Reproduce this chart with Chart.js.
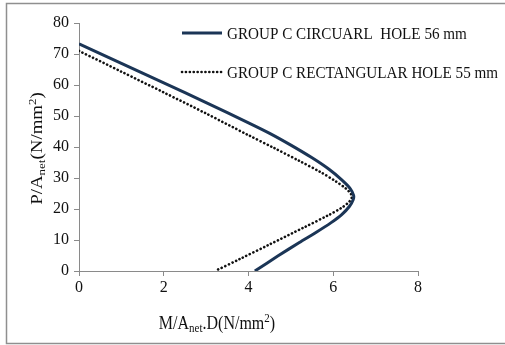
<!DOCTYPE html>
<html>
<head>
<meta charset="utf-8">
<script src="https://cdn.jsdelivr.net/npm/chart.js@4.4.1/dist/chart.umd.min.js"></script>
<style>
  html, body { margin: 0; padding: 0; background: #fff; }
  #wrap { width: 505px; height: 345px; position: relative; }
</style>
</head>
<body>
<div id="wrap"><canvas id="c" width="505" height="345"></canvas></div>
<script>
// Data
const seriesNames = ["GROUP C CIRCUARL  HOLE 56 mm", "GROUP C RECTANGULAR HOLE 55 mm"];
const circularX = [0, 1, 2, 3, 4, 4.5, 5, 5.5, 5.9, 6.2, 6.4, 6.48, 6.47, 6.38, 6.2, 5.95, 5.6, 5.2, 4.7, 4.15];
const circularY = [73.3, 67.0, 60.7, 54.3, 47.8, 44.4, 40.6, 36.5, 32.8, 29.4, 26.6, 24.4, 23.0, 20.8, 18.2, 15.6, 12.5, 9.2, 4.9, 0];
const rectX = [0, 1, 2, 3, 4, 4.6, 5.2, 5.7, 6.05, 6.3, 6.42, 6.44, 6.38, 6.2, 5.9, 5.3, 4.5, 3.8, 3.21];
const rectY = [71.0, 64.3, 57.6, 50.8, 43.8, 39.7, 35.5, 31.9, 29.0, 26.6, 24.8, 23.8, 22.4, 20.4, 18.1, 14.0, 8.6, 3.9, 0];
const xTicks = [0, 2, 4, 6, 8];
const yTicks = [0, 10, 20, 30, 40, 50, 60, 70, 80];

const toPts = (xs, ys) => xs.map((x, i) => ({ x: x, y: ys[i] }));
const SERIF = "'Liberation Serif', 'Times New Roman', serif";

const decor = {
  id: 'decor',
  afterDraw(chart) {
    const ctx = chart.ctx;
    ctx.save();
    // outer border
    ctx.strokeStyle = '#8f8f8f';
    ctx.lineWidth = 1.5;
    ctx.strokeRect(6.5, 3.5, 520, 340);

    // legend
    const ds = chart.data.datasets;
    const lx0 = 182, lx1 = 222, rows = [33, 72];
    ds.forEach((d, i) => {
      ctx.save();
      ctx.strokeStyle = d.borderColor;
      ctx.lineWidth = d.borderWidth;
      ctx.lineCap = d.borderCapStyle || 'butt';
      ctx.setLineDash(d.borderDash || []);
      ctx.beginPath();
      ctx.moveTo(lx0, rows[i]);
      ctx.lineTo(lx1, rows[i]);
      ctx.stroke();
      ctx.restore();
      ctx.save();
      ctx.translate(227, rows[i] + 1);
      ctx.scale(1.01, 1.15);
      ctx.fillStyle = '#111';
      ctx.font = '15px ' + SERIF;
      ctx.textBaseline = 'middle';
      ctx.textAlign = 'left';
      ctx.fillText(d.label, 0, 0);
      ctx.restore();
    });

    // helper to draw text with sub/sup parts, centred on (0,0) baseline
    function drawRich(parts) {
      const big = '16px ' + SERIF, small = '11px ' + SERIF;
      let w = 0;
      parts.forEach(p => { ctx.font = p.t === 'n' ? big : small; w += ctx.measureText(p.s).width; });
      let cx = -w / 2;
      ctx.textBaseline = 'alphabetic';
      ctx.textAlign = 'left';
      parts.forEach(p => {
        ctx.font = p.t === 'n' ? big : small;
        const dy = p.t === 'sub' ? 3 : (p.t === 'sup' ? -6 : 0);
        ctx.fillText(p.s, cx, dy);
        cx += ctx.measureText(p.s).width;
      });
    }
    ctx.fillStyle = '#111';
    // x title
    ctx.save();
    ctx.translate(217, 329);
    ctx.scale(1, 1.15);
    drawRich([{s:'M/A',t:'n'},{s:'net',t:'sub'},{s:'.D(N/mm',t:'n'},{s:'2',t:'sup'},{s:')',t:'n'}]);
    ctx.restore();
    // y title
    ctx.save();
    ctx.translate(42, 148.5);
    ctx.rotate(-Math.PI / 2);
    ctx.scale(1.18, 1);
    drawRich([{s:'P/A',t:'n'},{s:'net',t:'sub'},{s:'(N/mm',t:'n'},{s:'2',t:'sup'},{s:')',t:'n'}]);
    ctx.restore();
    ctx.restore();
  }
};

new Chart(document.getElementById('c'), {
  type: 'scatter',
  data: {
    datasets: [
      {
        label: seriesNames[0],
        data: toPts(circularX, circularY),
        showLine: true,
        borderColor: '#1b3556',
        borderWidth: 3,
        borderCapStyle: 'butt',
        pointRadius: 0,
        tension: 0.3,
        fill: false
      },
      {
        label: seriesNames[1],
        data: toPts(rectX, rectY),
        showLine: true,
        borderColor: '#111111',
        borderWidth: 2.6,
        borderCapStyle: 'round',
        borderDash: [0.1, 3.8],
        pointRadius: 0,
        tension: 0.3,
        fill: false
      }
    ]
  },
  options: {
    responsive: false,
    animation: false,
    devicePixelRatio: 1,
    layout: { padding: { left: 0, right: 87, top: 23, bottom: 0 } },
    plugins: { legend: { display: false }, tooltip: { enabled: false } },
    scales: {
      x: {
        type: 'linear',
        min: 0, max: 8,
        afterBuildTicks: s => { s.ticks = xTicks.map(v => ({ value: v })); },
        afterFit: s => { s.height = 74; },
        grid: { drawOnChartArea: false, drawTicks: true, tickLength: 5, color: '#8a8a8a', lineWidth: 1 },
        border: { display: true, color: '#8a8a8a', width: 1 },
        ticks: { color: '#111', font: { family: SERIF, size: 16 }, padding: 2, maxRotation: 0 }
      },
      y: {
        type: 'linear',
        min: 0, max: 80,
        afterBuildTicks: s => { s.ticks = yTicks.map(v => ({ value: v })); },
        afterFit: s => { s.width = 79; },
        grid: { drawOnChartArea: false, drawTicks: true, tickLength: 5, color: '#8a8a8a', lineWidth: 1 },
        border: { display: true, color: '#8a8a8a', width: 1 },
        ticks: { color: '#111', font: { family: SERIF, size: 16 }, padding: 5 }
      }
    }
  },
  plugins: [decor]
});
</script>
</body>
</html>
